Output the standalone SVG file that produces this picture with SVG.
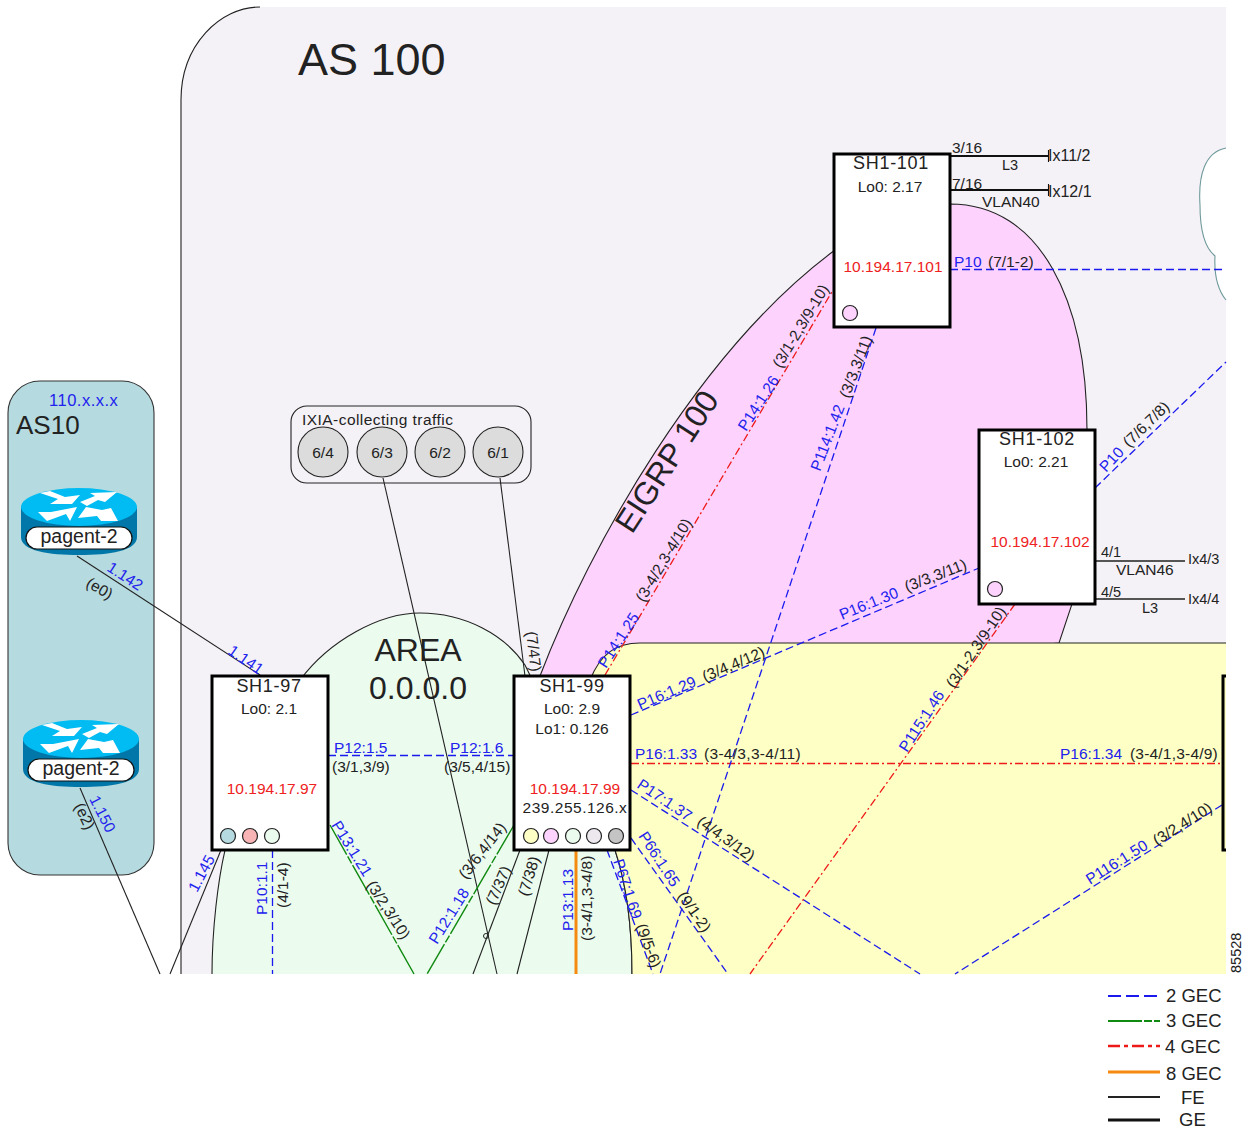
<svg xmlns="http://www.w3.org/2000/svg" width="1245" height="1130" viewBox="0 0 1245 1130">
<style>
text{font-family:"Liberation Sans",Arial,sans-serif;font-size:15.5px;fill:#222}
.b{fill:#2222ee}.r{fill:#ee2222}.m{text-anchor:middle}.h{font-size:18px;letter-spacing:.7px}
.l{fill:none;stroke:#222;stroke-width:1.1}
.g2{fill:none;stroke:#1a1aee;stroke-width:1.3;stroke-dasharray:8 4}
.g3{fill:none;stroke:#108a10;stroke-width:1.4;stroke-dasharray:34 2 8 2}
.g4{fill:none;stroke:#ee1a1a;stroke-width:1.3;stroke-dasharray:8 3 2 3}
.g8{fill:none;stroke:#f58a10;stroke-width:3}
.ge{fill:none;stroke:#111;stroke-width:2.2}
.tick{fill:none;stroke:#111;stroke-width:1.1}
.box{fill:#fff;stroke:#000;stroke-width:3}
.dot{stroke:#222;stroke-width:1.2}
.ix{fill:#dcdcdc;stroke:#222;stroke-width:1.1}
.reg{stroke:#222;stroke-width:1.1}
</style>
<defs>
<g id="router">
<path d="M-58,0 V30 C-58,44 -30,48 0,48 C30,48 58,44 58,30 V0 Z" fill="#0077a8"/>
<ellipse cx="0" cy="0" rx="58" ry="19" fill="#00bcf2"/>
<g fill="#fff">
<polygon points="-39,-14 -29,-16 -14,-10 1,-12 -7,-3 -29,-3 -21,-8"/>
<polygon points="38,-15 11,-14 16,-11 1,-5 8,-1 19,-7 26,-5"/>
<polygon points="-41,5 -28,5 -2,0 -9,14 -13,7 -32,14"/>
<polygon points="7,0 23,3 32,1 39,14 22,14 18,9 -1,11"/>
</g>
<rect x="-53" y="20" width="106" height="22" rx="11" fill="#fff" stroke="#111" stroke-width="1.2"/>
</g>
</defs>
<rect width="1245" height="1130" fill="#fff"/>
<g id="regions">
<path d="M181,974 V100 C181,45 220,7 260,7 H1226 V974 Z" fill="#f5f2f7"/>
<path d="M181,974 V100 C181,45 220,7 260,7" fill="none" stroke="#222" stroke-width="1.1"/>
<path d="M1226,148 C1205,152 1198,175 1200,205 C1200,230 1205,248 1215,256 C1214,275 1218,290 1226,300" fill="#fff" stroke="#6f9a9c" stroke-width="1.1"/>
<path class="reg" d="M540,676 C590,545 700,350 835,250 L950,204 C1040,204 1087,300 1087,430 L1072,604 L1059,643 L640,680 Z" fill="#fdd3fd"/>
<path class="reg" d="M212,974 C212,930 218,880 225,850 L300,680 C330,640 380,613 420,613 C465,613 505,635 525,665 L615,850 C625,880 632,920 632,974" fill="#ebfbee"/>
<path d="M1226,643 H640 C615,643 600,655 590,680 L615,850 C625,880 632,920 632,974 H1226 Z" fill="#feffc4"/>
<path class="reg" d="M1226,643 H640 C615,643 600,655 590,680 L615,850 C625,880 632,920 632,974" fill="none"/>
<text x="298" y="75" style="font-size:45px" fill="#000">AS 100</text>
<text transform="translate(632,535) rotate(-57)" style="font-size:32px">EIGRP 100</text>
<text x="418" y="661" class="m" style="font-size:32px">AREA</text>
<text x="418" y="699" class="m" style="font-size:32px">0.0.0.0</text>
</g>
<g id="as10">
<rect x="8" y="381" width="146" height="494" rx="32" fill="#b5dadf" stroke="#333" stroke-width="1.1"/>
<text x="49" y="406" class="b" style="font-size:16.5px;letter-spacing:.5px">110.x.x.x</text>
<text x="16" y="434" style="font-size:26px">AS10</text>
</g>
<g id="pagent-2-a">
<use href="#router" x="79" y="507"/>
<text x="79" y="543" class="m" style="font-size:19.5px">pagent-2</text>
</g>
<g id="pagent-2-b">
<use href="#router" x="81" y="739"/>
<text x="81" y="775" class="m" style="font-size:19.5px">pagent-2</text>
</g>
<g id="ixia">
<rect x="291" y="406" width="240" height="77" rx="16" fill="#f5f2f7" stroke="#222" stroke-width="1.1"/>
<text x="302" y="425" style="letter-spacing:.45px">IXIA-collecting traffic</text>
<circle class="ix" cx="323" cy="452" r="25"/><circle class="ix" cx="382" cy="452" r="25"/><circle class="ix" cx="440" cy="452" r="25"/><circle class="ix" cx="498" cy="452" r="25"/>
<text x="323" y="458" class="m">6/4</text><text x="382" y="458" class="m">6/3</text><text x="440" y="458" class="m">6/2</text><text x="498" y="458" class="m">6/1</text>
</g>
<g id="connectors">
<path class="l" d="M77,556 L260,675"/>
<path class="l" d="M80,788 L160,974"/>
<path class="l" d="M221,850 L170,974"/>
<path class="l" d="M383,478 L497,974"/>
<path class="l" d="M500,478 L525,676"/>
<path class="l" d="M520,850 L473,974"/>
<path class="l" d="M549,850 L517,974"/>
<circle cx="486" cy="936" r="2.5" fill="none" stroke="#222"/>
<path class="g2" d="M328,755.5 H514"/>
<path class="g2" d="M272.5,850 V974"/>
<path class="g3" d="M330,825 L414,974"/>
<path class="g3" d="M514,825 L427,974"/>
<path class="g8" d="M576,850 V974"/>
<path class="g2" d="M607,850 L653,974"/>
<path class="g2" d="M631,838 L728,974"/>
<path class="g2" d="M631,790 L920,974"/>
<path class="g4" d="M631,763.5 H1222"/>
<path class="g2" d="M1222,805 L955,974"/>
<path class="g2" d="M631,715 L979,568"/>
<path class="g4" d="M605,675 L833,290"/>
<path class="g2" d="M876,328 L660,974"/>
<path class="g4" d="M1015,604 L750,974"/>
<path class="g2" d="M950,269.5 H1226"/>
<path class="g2" d="M1095,488 L1226,362"/>
<path class="ge" d="M950,156 H1048"/><path class="tick" d="M1048.5,150 V162"/>
<path class="ge" d="M950,190 H1048"/><path class="tick" d="M1048.5,184 V196"/>
<path class="l" style="stroke-width:1.6" d="M1095,561 H1185 M1095,599 H1185"/>
</g>
<g id="connector-labels">
<text transform="translate(106,570) rotate(33)" class="b">1.142</text>
<text transform="translate(85,586) rotate(30)">(e0)</text>
<text transform="translate(227,653) rotate(35)" class="b">1.141</text>
<text transform="translate(89,799) rotate(63)" class="b">1.150</text>
<text transform="translate(74,806) rotate(65)">(e2)</text>
<text transform="translate(197,893) rotate(-62)" class="b">1.145</text>
<text transform="translate(267,915) rotate(-90)" class="b">P10:1.1</text>
<text transform="translate(288,908) rotate(-90)">(4/1-4)</text>
<text x="334" y="753" class="b">P12:1.5</text><text x="332" y="772">(3/1,3/9)</text>
<text x="450" y="753" class="b">P12:1.6</text><text x="444" y="772">(3/5,4/15)</text>
<text transform="translate(331,825) rotate(58)" class="b">P13:1.21</text>
<text transform="translate(366,885) rotate(57)">(3/2,3/10)</text>
<text transform="translate(437,945) rotate(-58)" class="b">P12:1.18</text>
<text transform="translate(466,880) rotate(-52)">(3/6,4/14)</text>
<text transform="translate(495,906) rotate(-66)">(7/37)</text>
<text transform="translate(528,897) rotate(-73)">(7/38)</text>
<text transform="translate(526,632) rotate(83)">(7/47)</text>
<text transform="translate(573,931) rotate(-90)" class="b">P13:1.13</text>
<text transform="translate(592,941) rotate(-90)">(3-4/1,3-4/8)</text>
<text transform="translate(613,861) rotate(72)" class="b">P67:1.69</text>
<text transform="translate(636,926) rotate(70)">(9/5-6)</text>
<text transform="translate(638,836) rotate(57)" class="b">P66:1.65</text>
<text transform="translate(677,896) rotate(55)">(9/1-2)</text>
<text transform="translate(636,787) rotate(34)" class="b">P17:1.37</text>
<text transform="translate(696,824) rotate(35)">(4/4,3/12)</text>
<text x="635" y="759" class="b">P16:1.33</text><text x="704" y="759" style="letter-spacing:.3px">(3-4/3,3-4/11)</text>
<text x="1060" y="759" class="b">P16:1.34</text><text x="1130" y="759" style="letter-spacing:.2px">(3-4/1,3-4/9)</text>
<text transform="translate(1090,885) rotate(-32)" class="b">P116:1.50</text>
<text transform="translate(1157,846) rotate(-32)">(3/2,4/10)</text>
<text transform="translate(640,710) rotate(-23)" class="b">P16:1.29</text>
<text transform="translate(705,682) rotate(-23)">(3/4,4/12)</text>
<text transform="translate(842,620) rotate(-22)" class="b">P16:1.30</text>
<text transform="translate(907,592) rotate(-21)">(3/3,3/11)</text>
<text transform="translate(606,669) rotate(-57)" class="b">P14:1.25</text>
<text transform="translate(644,603) rotate(-59)">(3-4/2,3-4/10)</text>
<text transform="translate(746,432) rotate(-57)" class="b">P14:1.26</text>
<text transform="translate(781,369) rotate(-59)">(3/1-2,3/9-10)</text>
<text transform="translate(820,472) rotate(-69)" class="b">P114:1.42</text>
<text transform="translate(849,399) rotate(-69)">(3/3,3/11)</text>
<text transform="translate(907,753) rotate(-57)" class="b">P115:1.46</text>
<text transform="translate(954,689) rotate(-56)">(3/1-2,3/9-10)</text>
<text x="954" y="267" class="b">P10</text><text x="988" y="267">(7/1-2)</text>
<text transform="translate(1106,473) rotate(-47)" class="b">P10</text>
<text transform="translate(1129,448) rotate(-44)">(7/6,7/8)</text>
<text x="952" y="153">3/16</text><text x="1002" y="170" style="font-size:14.5px">L3</text><text x="1048" y="161" style="font-size:16px">Ix11/2</text>
<text x="952" y="189">7/16</text><text x="982" y="207">VLAN40</text><text x="1048" y="197" style="font-size:16px">Ix12/1</text>
<text x="1101" y="557" style="font-size:14.5px">4/1</text><text x="1116" y="575">VLAN46</text><text x="1188" y="564" style="font-size:14.5px">Ix4/3</text>
<text x="1101" y="597" style="font-size:14.5px">4/5</text><text x="1142" y="613" style="font-size:14.5px">L3</text><text x="1188" y="604" style="font-size:14.5px">Ix4/4</text>
</g>
<g id="SH1-97">
<rect class="box" x="212" y="676" width="116" height="174"/>
<text x="269" y="692" class="m h">SH1-97</text><text x="269" y="714" class="m">Lo0: 2.1</text>
<text x="272" y="794" class="m r">10.194.17.97</text>
<circle class="dot" cx="228" cy="836" r="7.5" fill="#b5dadf"/><circle class="dot" cx="250" cy="836" r="7.5" fill="#f8b4b4"/><circle class="dot" cx="272" cy="836" r="7.5" fill="#ebfbee"/>
</g>
<g id="SH1-99">
<rect class="box" x="514" y="676" width="116" height="174"/>
<text x="572" y="692" class="m h">SH1-99</text><text x="572" y="714" class="m">Lo0: 2.9</text><text x="572" y="734" class="m">Lo1: 0.126</text>
<text x="575" y="794" class="m r">10.194.17.99</text><text x="575" y="813" class="m" style="letter-spacing:.5px">239.255.126.x</text>
<circle class="dot" cx="531" cy="836" r="7.5" fill="#feffc4"/><circle class="dot" cx="551" cy="836" r="7.5" fill="#fdd3fd"/><circle class="dot" cx="573" cy="836" r="7.5" fill="#ebfbee"/><circle class="dot" cx="594" cy="836" r="7.5" fill="#ece8ee"/><circle class="dot" cx="616" cy="836" r="7.5" fill="#c4c4c4"/>
</g>
<g id="SH1-101">
<rect class="box" x="834" y="154" width="116" height="173"/>
<text x="891" y="169" class="m h">SH1-101</text><text x="890" y="192" class="m">Lo0: 2.17</text>
<text x="893" y="272" class="m r">10.194.17.101</text>
<circle class="dot" cx="850" cy="313" r="7.5" fill="#fdd3fd"/>
</g>
<g id="SH1-102">
<rect class="box" x="979" y="430" width="116" height="174"/>
<text x="1037" y="445" class="m h">SH1-102</text><text x="1036" y="467" class="m">Lo0: 2.21</text>
<text x="1040" y="547" class="m r">10.194.17.102</text>
<circle class="dot" cx="995" cy="589" r="7.5" fill="#fdd3fd"/>
</g>
<g id="partial-node">
<path d="M1226,676 H1223 V850 H1226" fill="none" stroke="#000" stroke-width="3"/>
</g>
<g id="legend">
<text transform="translate(1241,973) rotate(-90)" style="font-size:14.5px">85528</text>
<path class="g2" style="stroke-width:2.2;stroke-dasharray:13 5" d="M1108,996 H1160"/><text x="1166" y="1002" style="font-size:18.5px">2 GEC</text>
<path class="g3" style="stroke-width:2.2" d="M1108,1021 H1160"/><text x="1166" y="1027" style="font-size:18.5px">3 GEC</text>
<path class="g4" style="stroke-width:2.6;stroke-dasharray:12 4 4 4" d="M1108,1046 H1160"/><text x="1165" y="1053" style="font-size:18.5px">4 GEC</text>
<path class="g8" d="M1108,1072 H1160"/><text x="1166" y="1080" style="font-size:18.5px">8 GEC</text>
<path class="l" style="stroke-width:1.8" d="M1108,1097 H1160"/><text x="1181" y="1104" style="font-size:18.5px">FE</text>
<path class="ge" style="stroke-width:3" d="M1108,1120 H1160"/><text x="1179" y="1126" style="font-size:18.5px">GE</text>
</g>
</svg>
